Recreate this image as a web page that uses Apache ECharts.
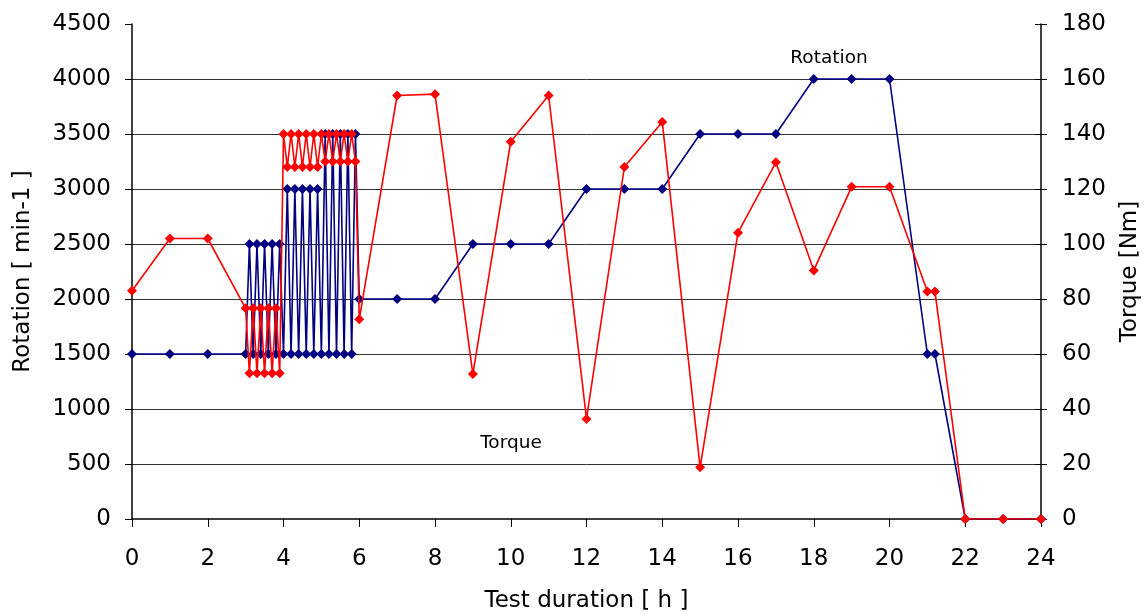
<!DOCTYPE html>
<html>
<head>
<meta charset="utf-8">
<script src="https://cdn.jsdelivr.net/npm/echarts@6/dist/echarts.min.js"></script>
<style>
html,body{margin:0;padding:0;background:#fff;}
#chart{width:1148px;height:615px;}
</style>
</head>
<body>
<div id="chart"></div>
<script>
// Test duration [h] for each sample
const hours = [0, 1, 2,
  3.0, 3.1, 3.2, 3.3, 3.4, 3.5, 3.6, 3.7, 3.8, 3.9,
  4.0, 4.1, 4.2, 4.3, 4.4, 4.5, 4.6, 4.7, 4.8, 4.9,
  5.0, 5.1, 5.2, 5.3, 5.4, 5.5, 5.6, 5.7, 5.8, 5.9,
  6.0, 7, 8, 9, 10, 11, 12, 13, 14, 15, 16, 17, 18, 19, 20,
  21, 21.2, 22, 23, 24];
// Rotation [min-1]
const rotation = [1500, 1500, 1500,
  1500, 2500, 1500, 2500, 1500, 2500, 1500, 2500, 1500, 2500,
  1500, 3000, 1500, 3000, 1500, 3000, 1500, 3000, 1500, 3000,
  1500, 3500, 1500, 3500, 1500, 3500, 1500, 3500, 1500, 3500,
  2000, 2000, 2000, 2500, 2500, 2500, 3000, 3000, 3000, 3500, 3500, 3500, 4000, 4000, 4000,
  1500, 1500, 0, 0, 0];
// Torque [Nm]
const torque = [83, 102, 102,
  76.6, 53, 76.6, 53, 76.6, 53, 76.6, 53, 76.6, 53,
  140, 128, 140, 128, 140, 128, 140, 128, 140, 128,
  140, 130, 140, 130, 140, 130, 140, 130, 140, 130,
  72.6, 154, 154.5, 52.7, 137.2, 154, 36.4, 128, 144.4, 18.8, 104.1, 129.7, 90.4, 120.8, 120.8,
  82.7, 82.7, 0, 0, 0];
const xTicks = [0, 24, 2];
const leftTicks = [0, 4500, 500];
const rightTicks = [0, 180, 20];

const FONT = "'DejaVu Sans', 'Liberation Sans', sans-serif";
const chart = echarts.init(document.getElementById('chart'), null, {renderer: 'canvas'});
const plain = v => String(v);
chart.setOption({
  animation: false,
  backgroundColor: '#fff',
  grid: {left: 132, right: 107, top: 24, bottom: 96, containLabel: false, outerBoundsMode: 'none'},
  xAxis: {
    type: 'value', min: xTicks[0], max: xTicks[1], interval: xTicks[2],
    name: 'Test duration [ h ]', nameLocation: 'middle', nameGap: 71,
    nameTextStyle: {fontFamily: FONT, fontSize: 23, color: '#000'},
    axisLine: {show: true, onZero: false, lineStyle: {color: '#000', width: 1.5}},
    axisTick: {show: true, inside: false, length: 8, lineStyle: {color: '#000'}},
    axisLabel: {fontFamily: FONT, fontSize: 23, color: '#000', margin: 29, formatter: plain},
    splitLine: {show: false}
  },
  yAxis: [{
    type: 'value', position: 'left', min: leftTicks[0], max: leftTicks[1], interval: leftTicks[2],
    name: 'Rotation [ min-1 ]', nameLocation: 'middle', nameGap: 97, nameRotate: 90,
    nameTextStyle: {fontFamily: FONT, fontSize: 23, color: '#000'},
    axisLine: {show: true, onZero: false, lineStyle: {color: '#000', width: 1.5}},
    axisTick: {show: true, length: 7, lineStyle: {color: '#000'}},
    axisLabel: {fontFamily: FONT, fontSize: 23, color: '#000', margin: 21, formatter: plain},
    splitLine: {show: true, showMinLine: false, showMaxLine: false, lineStyle: {color: '#333', width: 1}}
  }, {
    type: 'value', position: 'right', min: rightTicks[0], max: rightTicks[1], interval: rightTicks[2],
    name: 'Torque [Nm]', nameLocation: 'middle', nameGap: 78, nameRotate: 90,
    nameTextStyle: {fontFamily: FONT, fontSize: 23, color: '#000'},
    axisLine: {show: true, onZero: false, lineStyle: {color: '#000', width: 1.5}},
    axisTick: {show: true, length: 6, lineStyle: {color: '#000'}},
    axisLabel: {fontFamily: FONT, fontSize: 23, color: '#000', margin: 21, formatter: plain},
    splitLine: {show: false}
  }, {
    type: 'value', position: 'right', min: rightTicks[0], max: rightTicks[1], interval: rightTicks[2],
    axisLine: {show: false, onZero: false},
    axisTick: {show: true, inside: true, length: 6, lineStyle: {color: '#000'}},
    axisLabel: {show: false},
    splitLine: {show: false}
  }],
  series: [{
    name: 'Rotation', type: 'line', yAxisIndex: 0,
    data: hours.map((h, i) => [h, rotation[i]]),
    symbol: 'diamond', symbolSize: 10, showSymbol: true,
    itemStyle: {color: '#000080'},
    lineStyle: {color: '#000080', width: 1.6},
    z: 2
  }, {
    name: 'Torque', type: 'line', yAxisIndex: 1,
    data: hours.map((h, i) => [h, torque[i]]),
    symbol: 'diamond', symbolSize: 10, showSymbol: true,
    itemStyle: {color: '#ff0000'},
    lineStyle: {color: '#ff0000', width: 1.6},
    z: 3
  }],
  graphic: [
    {type: 'text', x: 829, y: 58, style: {text: 'Rotation', font: '18.5px ' + FONT, fill: '#000', textAlign: 'center', textVerticalAlign: 'middle'}},
    {type: 'text', x: 511, y: 443, style: {text: 'Torque', font: '18.5px ' + FONT, fill: '#000', textAlign: 'center', textVerticalAlign: 'middle'}}
  ]
});
</script>
</body>
</html>
